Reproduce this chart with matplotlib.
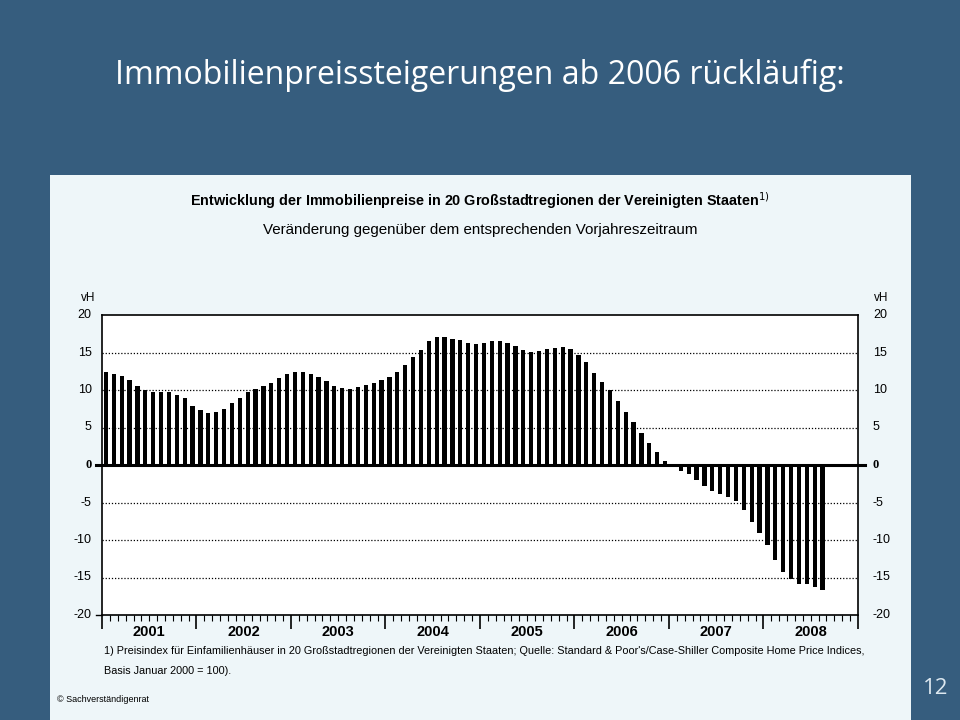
import numpy as np
import matplotlib
matplotlib.use("Agg")
import matplotlib.pyplot as plt

# Veränderung gegenüber Vorjahresmonat in vH, Jan 2001 - Aug 2008
werte = [
    12.4, 12.2, 11.9, 11.4, 10.5, 10.0, 9.7, 9.7, 9.7, 9.4, 8.9, 7.9,      # 2001
    7.4, 7.0, 7.1, 7.5, 8.3, 9.0, 9.7, 10.2, 10.6, 11.0, 11.6, 12.2,       # 2002
    12.4, 12.4, 12.2, 11.8, 11.2, 10.6, 10.3, 10.2, 10.4, 10.7, 11.0, 11.4,  # 2003
    11.8, 12.4, 13.4, 14.4, 15.4, 16.6, 17.1, 17.1, 16.8, 16.7, 16.3, 16.2,  # 2004
    16.3, 16.6, 16.6, 16.3, 15.9, 15.4, 15.1, 15.2, 15.5, 15.6, 15.8, 15.5,  # 2005
    14.7, 13.8, 12.3, 11.1, 10.0, 8.6, 7.1, 5.8, 4.3, 3.0, 1.8, 0.6,       # 2006
    0.0, -0.8, -1.2, -2.0, -2.8, -3.4, -3.8, -4.3, -4.8, -6.0, -7.6, -9.0,  # 2007
    -10.7, -12.7, -14.3, -15.2, -15.8, -15.9, -16.3, -16.6,                # 2008
]
jahre = ["2001", "2002", "2003", "2004", "2005", "2006", "2007", "2008"]
y_ticks = [-20, -15, -10, -5, 0, 5, 10, 15, 20]

hintergrund = "#365d7e"
panel = "#eef6f9"
schrift = ["Liberation Sans", "DejaVu Sans"]

fig = plt.figure(figsize=(9.6, 7.2), dpi=100, facecolor=hintergrund)

# helles Feld fuer die Grafik
bg = fig.add_axes([50 / 960, 0, 861 / 960, 545 / 720], zorder=0)
bg.set_facecolor(panel)
bg.set_xticks([])
bg.set_yticks([])
for s in bg.spines.values():
    s.set_visible(False)

fig.text(0.5, 1 - 75 / 720, "Immobilienpreissteigerungen ab 2006 rückläufig:",
         ha="center", va="center", color="white", fontsize=23,
         family=["Open Sans", "DejaVu Sans"])
fig.text(936 / 960, 1 - 688 / 720, "12", ha="center", va="center",
         color="#dde8f0", fontsize=16, family=["Open Sans", "DejaVu Sans"])

ax = fig.add_axes([102 / 960, 105 / 720, 756 / 960, 300 / 720], zorder=2)
ax.set_facecolor("white")

n_monate = len(jahre) * 12
x = np.arange(len(werte)) + 0.5
ax.bar(x, werte, width=0.55, color="black", zorder=3)

ax.set_xlim(0, n_monate)
ax.set_ylim(-20, 20)

# Gitter
for y in y_ticks:
    if y in (-20, 0, 20):
        continue
    ax.axhline(y, color="black", lw=0.9, ls=(0, (1, 1.5)), zorder=1)
ax.plot([-0.7, n_monate + 0.9], [0, 0], color="black", lw=2.2,
        clip_on=False, zorder=4)
ax.plot([-0.7, 0], [-20, -20], color="black", lw=1, clip_on=False)

for s in ax.spines.values():
    s.set_linewidth(1.2)

# x-Achse: Monatsstriche, Jahresstriche
ax.set_xticks(np.arange(0, n_monate + 1, 12))
ax.set_xticks(np.arange(0, n_monate + 1, 1), minor=True)
ax.tick_params(axis="x", which="major", direction="out", length=10, width=1.2,
               labelbottom=False)
ax.tick_params(axis="x", which="minor", direction="out", length=4, width=0.8)
for i, j in enumerate(jahre):
    ax.text(i * 12 + 6, -21.4, j, ha="center", va="top", fontsize=10.5,
            fontweight="bold", family=schrift)

# y-Achse: Beschriftung links und rechts
ax.set_yticks([])
for y in y_ticks:
    kw = dict(fontsize=9, family=schrift, va="center")
    if y == 0:
        kw.update(fontweight="bold", family=["Liberation Serif", "DejaVu Serif"])
    ax.text(-1.3, y, str(y), ha="right", **kw)
    ax.text(n_monate + 1.9, y, str(y), ha="left", **kw)
ax.text(-1.8, 22.3, "vH", ha="center", va="center", fontsize=8.5, family=schrift)
ax.text(n_monate + 2.9, 22.3, "vH", ha="center", va="center", fontsize=8.5,
        family=schrift)

# Texte im Feld
fig.text(0.5, 1 - 201 / 720,
         "Entwicklung der Immobilienpreise in 20 Großstadtregionen der Vereinigten Staaten$^{1)}$",
         ha="center", va="center", fontsize=10.4, fontweight="bold", family=schrift)
fig.text(0.5, 1 - 230 / 720,
         "Veränderung gegenüber dem entsprechenden Vorjahreszeitraum",
         ha="center", va="center", fontsize=10.9, family=schrift)
fig.text(104 / 960, 1 - 651 / 720,
         "1) Preisindex für Einfamilienhäuser in 20 Großstadtregionen der Vereinigten Staaten; "
         "Quelle: Standard & Poor's/Case-Shiller Composite Home Price Indices,",
         ha="left", va="center", fontsize=7.8, family=schrift)
fig.text(104 / 960, 1 - 671 / 720, "Basis Januar 2000 = 100).",
         ha="left", va="center", fontsize=7.8, family=schrift)
fig.text(57 / 960, 1 - 700 / 720, "© Sachverständigenrat",
         ha="left", va="center", fontsize=6.5, family=schrift)

fig.savefig("out.png", dpi=100, facecolor=hintergrund)
